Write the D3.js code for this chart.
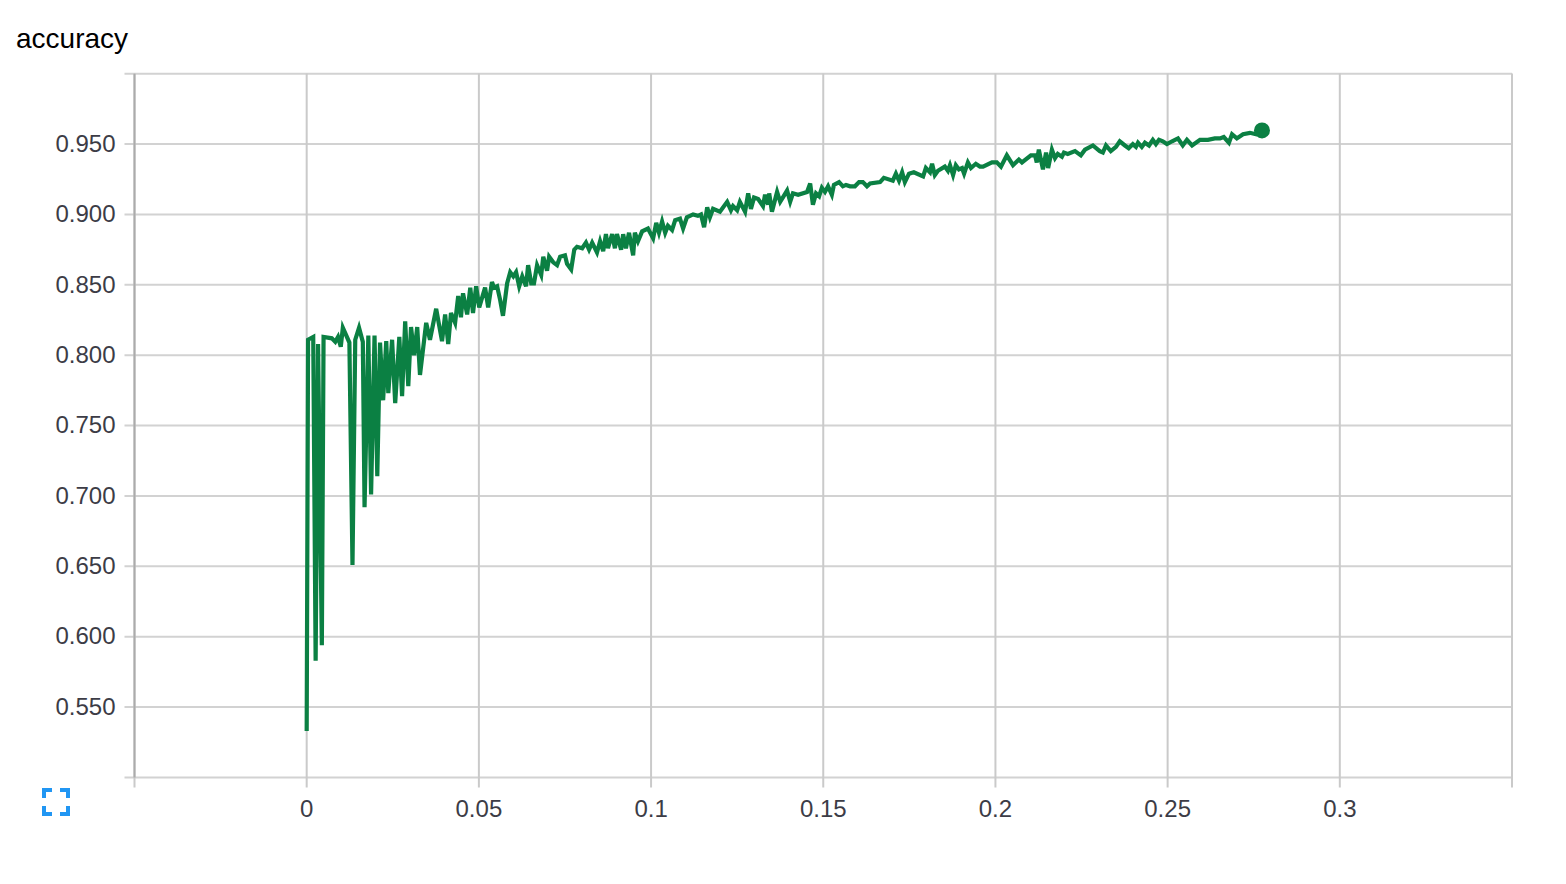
<!DOCTYPE html>
<html><head><meta charset="utf-8">
<script src="https://cdn.jsdelivr.net/npm/d3@7/dist/d3.min.js"></script>
<style>html,body{margin:0;padding:0;background:#fff}svg{display:block}text{font-family:"Liberation Sans",Arial,sans-serif}</style>
</head><body><svg id="c" width="1566" height="884"></svg>
<script>
const title = "accuracy";
const xGridValues = [-0.05,0,0.05,0.1,0.15,0.2,0.25,0.3,0.35];
const xTickLabels = ["","0","0.05","0.1","0.15","0.2","0.25","0.3",""];
const yGridValues = [0.5,0.55,0.6,0.65,0.7,0.75,0.8,0.85,0.9,0.95,1.0];
const yTickLabels = ["","0.550","0.600","0.650","0.700","0.750","0.800","0.850","0.900","0.950",""];
const stepValues = [0,.0004,.0019,.0026,.0033,.0044,.0049,.0073,.0083,.0091,.0099,.0105,.0124,.0133,.0141,.0152,.0163,.0168,.0179,.0187,.0197,.0205,.0213,.0222,.0231,.0237,.0248,.0257,.0269,.0277,.0286,.0295,.0303,.0312,.0321,.0329,.0347,.0358,.0376,.0393,.0402,.0411,.0419,.0431,.044,.0448,.0454,.0466,.0475,.0483,.0492,.0501,.0518,.0527,.0538,.0544,.0553,.0562,.057,.0582,.0591,.06,.0608,.0617,.0626,.0637,.0643,.0652,.066,.0669,.0681,.0687,.0698,.0704,.0716,.0727,.0736,.075,.0756,.0768,.0777,.0785,.08,.0811,.082,.0829,.0843,.0852,.0861,.0869,.0875,.0887,.0895,.0901,.0913,.0919,.0927,.0936,.0948,.0953,.0962,.0974,.0991,.1006,.1015,.1023,.1032,.1041,.1049,.1061,.107,.1084,.1093,.1104,.1122,.1136,.1145,.1154,.1163,.1171,.118,.12,.1221,.1232,.1238,.125,.1258,.1273,.1282,.129,.1299,.1311,.1325,.1331,.134,.1343,.1351,.1366,.1375,.1395,.1404,.1412,.1427,.1453,.1462,.147,.1479,.1488,.1496,.1505,.1514,.1525,.1531,.1546,.1557,.1566,.1578,.1592,.1604,.1615,.1627,.1636,.1665,.1676,.1702,.1711,.172,.1729,.1737,.1749,.1763,.179,.1798,.181,.1816,.1824,.1833,.1853,.1862,.1868,.1877,.1885,.1894,.1903,.1909,.192,.1929,.1943,.1955,.1964,.199,.2004,.2016,.2033,.2051,.2068,.2077,.2103,.2115,.212,.2126,.2138,.2147,.2153,.2164,.2173,.2181,.2193,.2199,.221,.2231,.2248,.226,.2283,.2303,.2312,.2321,.2335,.235,.2361,.2376,.2387,.2399,.2408,.2414,.2425,.2434,.2446,.2457,.2466,.2475,.2486,.2498,.2513,.253,.2544,.2556,.2571,.2594,.2617,.2637,.2652,.2663,.2678,.2687,.2701,.2719,.2739,.2757,.2774];
const accuracyValues = [.533,.811,.813,.583,.808,.594,.813,.812,.8095,.813,.806,.8195,.809,.651,.811,.8195,.8095,.692,.814,.701,.814,.714,.809,.768,.81,.773,.811,.766,.813,.771,.824,.778,.82,.80,.82,.786,.823,.811,.833,.81,.829,.808,.83,.823,.842,.827,.844,.829,.848,.83,.849,.834,.848,.834,.852,.848,.849,.839,.828,.851,.859,.856,.859,.849,.856,.849,.864,.851,.851,.864,.857,.87,.86,.87,.866,.864,.87,.871,.865,.861,.875,.877,.876,.88,.875,.88,.873,.881,.874,.886,.876,.886,.876,.886,.875,.886,.876,.887,.871,.887,.881,.888,.89,.883,.894,.887,.895,.887,.892,.889,.896,.897,.89,.898,.9,.899,.9,.891,.905,.898,.904,.902,.909,.903,.906,.903,.909,.902,.915,.904,.912,.911,.906,.914,.907,.915,.902,.916,.909,.917,.909,.915,.914,.916,.922,.907,.915,.913,.919,.916,.92,.914,.921,.923,.92,.921,.92,.92,.923,.923,.92,.922,.923,.926,.924,.929,.924,.93,.923,.929,.93,.927,.933,.93,.936,.928,.931,.934,.931,.935,.928,.935,.932,.933,.929,.937,.933,.936,.934,.934,.937,.937,.934,.942,.935,.939,.937,.942,.942,.937,.946,.932,.944,.933,.946,.94,.943,.941,.944,.943,.945,.942,.946,.949,.945,.944,.949,.945,.948,.952,.949,.947,.95,.948,.951,.948,.951,.949,.953,.95,.953,.952,.95,.952,.954,.949,.953,.949,.953,.953,.954,.954,.955,.951,.957,.954,.957,.958,.957,.9597];

const green = "#0b8043", gridH = "#d2d2d2", gridV = "#cacaca", ink = "#3c3c46";
const svg = d3.select("#c");
const x = d3.scaleLinear().domain([-0.05,0.35]).range([134.5,1512]);
const y = d3.scaleLinear().domain([0.5,1.0]).range([777.5,73.7]);

svg.append("text").attr("x",16).attr("y",48).attr("font-size",28).attr("fill","#000").text(title);

const gy = svg.append("g").attr("transform","translate(134.5,0)")
  .call(d3.axisLeft(y).offset(0).tickValues(yGridValues).tickSize(10).tickPadding(9)
    .tickFormat((d,i)=>yTickLabels[i]));
gy.select(".domain").remove();
gy.selectAll("line").attr("x1",-10).attr("x2",1377.5).attr("stroke",gridH).attr("stroke-width",2);
gy.selectAll("text").attr("font-size",24).attr("fill",ink);

const gx = svg.append("g").attr("transform","translate(0,777.5)")
  .call(d3.axisBottom(x).offset(0).tickValues(xGridValues).tickSize(10).tickPadding(12)
    .tickFormat((d,i)=>xTickLabels[i]));
gx.select(".domain").remove();
gx.selectAll("line").attr("y1",-704).attr("y2",10).attr("stroke",gridV).attr("stroke-width",2);
gx.selectAll("text").attr("font-size",24).attr("fill",ink);

svg.append("line").attr("x1",x(-0.05)).attr("x2",x(-0.05)).attr("y1",y(1)).attr("y2",y(0.5))
  .attr("stroke","#ababab").attr("stroke-width",2);

const line = d3.line().x((d,i)=>x(stepValues[i])).y(d=>y(d));
svg.append("path").datum(accuracyValues).attr("fill","none").attr("stroke",green)
  .attr("stroke-width",4.2).attr("d",line);

const last = accuracyValues.length-1;
svg.append("circle").attr("cx",x(stepValues[last])).attr("cy",y(accuracyValues[last]))
  .attr("r",8).attr("fill",green);

svg.append("path").attr("fill","none").attr("stroke","#2196f3").attr("stroke-width",4)
  .attr("d","M52,790H44V798M60,790H68V798M52,814H44V806M60,814H68V806");
</script></body></html>
